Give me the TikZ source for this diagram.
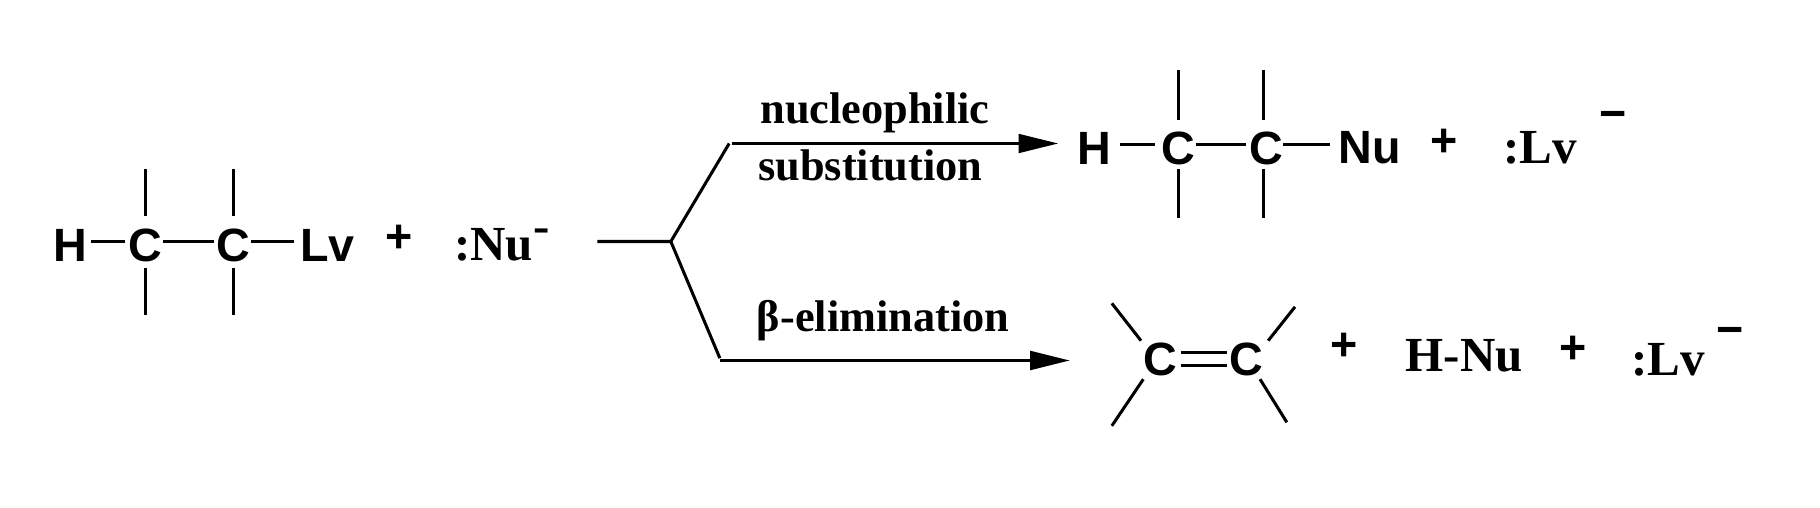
\documentclass[tikz,border=0pt]{standalone}
\usepackage{fontspec}
\setmainfont{Liberation Serif}
\newfontfamily\arial{Liberation Sans}
\usetikzlibrary{arrows.meta}
\begin{document}
\begin{tikzpicture}[x=1pt,y=-1pt,line width=2.6pt,
  atm/.style={font=\arial\bfseries\fontsize{40}{40}\selectfont,inner sep=0pt},
  sr/.style={font=\bfseries\fontsize{42}{42}\selectfont,inner sep=0pt},
  lbl/.style={font=\bfseries\fontsize{38}{38}\selectfont,inner sep=0pt},
  arr/.style={-{Triangle[length=34pt,width=16pt]}}]
\useasboundingbox (0,0) rectangle (1560,435);
% left molecule
\node[atm] (h1) at (60,210) {H};
\node[atm] (c1) at (125,210) {C};
\node[atm] (c2) at (200,210) {C};
\node[atm,anchor=west] (lv1) at (256,210) {Lv};
\draw (78,207) -- (107,207) (140,207) -- (183,207) (215,207) -- (252,207);
\draw (125,145) -- (125,185) (125,230) -- (125,270) (200,145) -- (200,185) (200,230) -- (200,270);
\node[atm] (p1) at (342,205) {+};
\node[sr,anchor=west] (nu) at (388,210) {:Nu\raisebox{0.8ex}{-}};
% branch
\coordinate (b0) at (512,207); \coordinate (b1) at (575,207);
\coordinate (bt) at (625,123); \coordinate (bb) at (617,307);
\draw (b0) -- (b1) -- (bt); \draw (b1) -- (bb);
\coordinate (t1) at (627,123); \coordinate (t2) at (907,123);
\draw[arr] (t1) -- (t2);
\coordinate (e1) at (617,309); \coordinate (e2) at (917,309);
\draw[arr] (e1) -- (e2);
\node[lbl] (l1) at (750,97) {nucleophilic};
\node[lbl] (l2) at (746,142) {substitution};
\node[lbl] (l3) at (757,275) {β-elimination};
% top product
\node[atm] (h2) at (938,127) {H};
\node[atm] (c3) at (1010,127) {C};
\node[atm] (c4) at (1085,127) {C};
\node[atm,anchor=west] (nu2) at (1146,127) {Nu};
\draw (960,124) -- (990,124) (1025,124) -- (1068,124) (1100,124) -- (1140,124);
\draw (1010,60) -- (1010,103) (1010,145) -- (1010,187) (1083,60) -- (1083,103) (1083,145) -- (1083,187);
\node[atm] (p2) at (1238,122) {+};
\node[sr,anchor=west] (lv2) at (1287,127) {:Lv};
\node[atm] (m2) at (1383,103) {\textminus};
% bottom product
\node[atm] (c5) at (995,308) {C};
\node[atm] (c6) at (1068,308) {C};
\draw (1012,302) -- (1052,302) (1012,313) -- (1052,313);
\draw (953,260) -- (978,292) (980,325) -- (953,365) (1110,263) -- (1087,292) (1080,325) -- (1103,362);
\node[atm] (p3) at (1152,297) {+};
\node[sr] (hnu) at (1255,305) {H-Nu};
\node[atm] (p4) at (1348,300) {+};
\node[sr,anchor=west] (lv3) at (1397,308) {:Lv};
\node[atm] (m3) at (1483,288) {\textminus};
\end{tikzpicture}
\end{document}
